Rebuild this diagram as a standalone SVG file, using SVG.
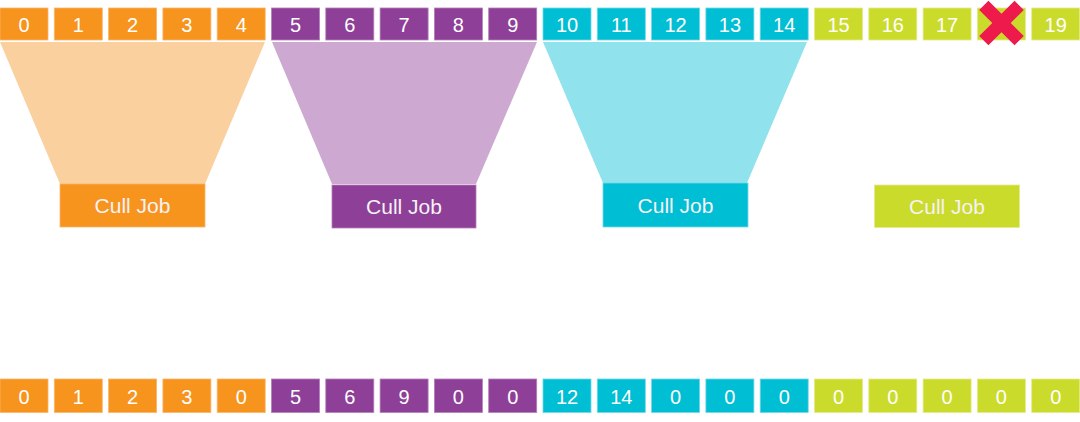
<svg xmlns="http://www.w3.org/2000/svg" width="1080" height="422" viewBox="0 0 1080 422">
<style>
.o{fill:#F7941E;stroke:#FBB56A;stroke-width:0.8}
.p{fill:#8E3F97;stroke:#B47FBA;stroke-width:0.8}
.c{fill:#00BED4;stroke:#6ED8E6;stroke-width:0.8}
.g{fill:#CBDB2B;stroke:#E3EC8A;stroke-width:0.8}
.n{font-family:"Liberation Sans",Arial,sans-serif;font-size:20px;fill:#FFFFFF;text-anchor:middle}
.j{font-family:"Liberation Sans",Arial,sans-serif;font-size:21px;fill:#F6F2F6;text-anchor:middle}
.fo{fill:#FBD09F}
.fp{fill:#CDA9D2}
.fc{fill:#90E2EC}
</style>
<defs>
<rect id="b" width="48" height="32"/>
<rect id="bb" width="48" height="33.5"/>
</defs>
<g id="connectors">
<polygon class="fo" points="0,42 265,42 205,184 60,184"/>
<polygon class="fp" points="272,42 537,42 476,184 332,184"/>
<polygon class="fc" points="543,42 807,42 747,183 603,183"/>
</g>
<g id="top-row">
<g id="t0"><use href="#b" class="o" x="0" y="8"/><text class="n" x="24" y="31.5">0</text></g>
<g id="t1"><use href="#b" class="o" x="54.3" y="8"/><text class="n" x="78.3" y="31.5">1</text></g>
<g id="t2"><use href="#b" class="o" x="108.6" y="8"/><text class="n" x="132.6" y="31.5">2</text></g>
<g id="t3"><use href="#b" class="o" x="162.9" y="8"/><text class="n" x="186.9" y="31.5">3</text></g>
<g id="t4"><use href="#b" class="o" x="217.2" y="8"/><text class="n" x="241.2" y="31.5">4</text></g>
<g id="t5"><use href="#b" class="p" x="271.5" y="8"/><text class="n" x="295.5" y="31.5">5</text></g>
<g id="t6"><use href="#b" class="p" x="325.8" y="8"/><text class="n" x="349.8" y="31.5">6</text></g>
<g id="t7"><use href="#b" class="p" x="380.1" y="8"/><text class="n" x="404.1" y="31.5">7</text></g>
<g id="t8"><use href="#b" class="p" x="434.4" y="8"/><text class="n" x="458.4" y="31.5">8</text></g>
<g id="t9"><use href="#b" class="p" x="488.7" y="8"/><text class="n" x="512.7" y="31.5">9</text></g>
<g id="t10"><use href="#b" class="c" x="543" y="8"/><text class="n" x="567" y="31.5">10</text></g>
<g id="t11"><use href="#b" class="c" x="597.3" y="8"/><text class="n" x="621.3" y="31.5">11</text></g>
<g id="t12"><use href="#b" class="c" x="651.6" y="8"/><text class="n" x="675.6" y="31.5">12</text></g>
<g id="t13"><use href="#b" class="c" x="705.9" y="8"/><text class="n" x="729.9" y="31.5">13</text></g>
<g id="t14"><use href="#b" class="c" x="760.2" y="8"/><text class="n" x="784.2" y="31.5">14</text></g>
<g id="t15"><use href="#b" class="g" x="814.5" y="8"/><text class="n" x="838.5" y="31.5">15</text></g>
<g id="t16"><use href="#b" class="g" x="868.8" y="8"/><text class="n" x="892.8" y="31.5">16</text></g>
<g id="t17"><use href="#b" class="g" x="923.1" y="8"/><text class="n" x="947.1" y="31.5">17</text></g>
<g id="t18"><use href="#b" class="g" x="977.4" y="8"/>
<polygon fill="#ED1A4B" transform="translate(1001.5,23) rotate(45)" points="-6.5,-25 6.5,-25 6.5,-6.5 25,-6.5 25,6.5 6.5,6.5 6.5,25 -6.5,25 -6.5,6.5 -25,6.5 -25,-6.5 -6.5,-6.5"/></g>
<g id="t19"><use href="#b" class="g" x="1031.7" y="8"/><text class="n" x="1055.7" y="31.5">19</text></g>
</g>
<g id="cull-jobs">
<g id="cj0"><rect class="o" x="60" y="184" width="145" height="43"/><text class="j" x="132.5" y="213">Cull Job</text></g>
<g id="cj1"><rect class="p" x="332" y="185" width="144" height="43"/><text class="j" x="404" y="214">Cull Job</text></g>
<g id="cj2"><rect class="c" x="603" y="183" width="145" height="44"/><text class="j" x="675.5" y="212.5">Cull Job</text></g>
<g id="cj3"><rect class="g" x="874.5" y="185" width="145" height="42.5"/><text class="j" x="947" y="214">Cull Job</text></g>
</g>
<g id="bottom-row">
<g id="r0"><use href="#bb" class="o" x="0" y="379"/><text class="n" x="24" y="403.5">0</text></g>
<g id="r1"><use href="#bb" class="o" x="54.3" y="379"/><text class="n" x="78.3" y="403.5">1</text></g>
<g id="r2"><use href="#bb" class="o" x="108.6" y="379"/><text class="n" x="132.6" y="403.5">2</text></g>
<g id="r3"><use href="#bb" class="o" x="162.9" y="379"/><text class="n" x="186.9" y="403.5">3</text></g>
<g id="r4"><use href="#bb" class="o" x="217.2" y="379"/><text class="n" x="241.2" y="403.5">0</text></g>
<g id="r5"><use href="#bb" class="p" x="271.5" y="379"/><text class="n" x="295.5" y="403.5">5</text></g>
<g id="r6"><use href="#bb" class="p" x="325.8" y="379"/><text class="n" x="349.8" y="403.5">6</text></g>
<g id="r7"><use href="#bb" class="p" x="380.1" y="379"/><text class="n" x="404.1" y="403.5">9</text></g>
<g id="r8"><use href="#bb" class="p" x="434.4" y="379"/><text class="n" x="458.4" y="403.5">0</text></g>
<g id="r9"><use href="#bb" class="p" x="488.7" y="379"/><text class="n" x="512.7" y="403.5">0</text></g>
<g id="r10"><use href="#bb" class="c" x="543" y="379"/><text class="n" x="567" y="403.5">12</text></g>
<g id="r11"><use href="#bb" class="c" x="597.3" y="379"/><text class="n" x="621.3" y="403.5">14</text></g>
<g id="r12"><use href="#bb" class="c" x="651.6" y="379"/><text class="n" x="675.6" y="403.5">0</text></g>
<g id="r13"><use href="#bb" class="c" x="705.9" y="379"/><text class="n" x="729.9" y="403.5">0</text></g>
<g id="r14"><use href="#bb" class="c" x="760.2" y="379"/><text class="n" x="784.2" y="403.5">0</text></g>
<g id="r15"><use href="#bb" class="g" x="814.5" y="379"/><text class="n" x="838.5" y="403.5">0</text></g>
<g id="r16"><use href="#bb" class="g" x="868.8" y="379"/><text class="n" x="892.8" y="403.5">0</text></g>
<g id="r17"><use href="#bb" class="g" x="923.1" y="379"/><text class="n" x="947.1" y="403.5">0</text></g>
<g id="r18"><use href="#bb" class="g" x="977.4" y="379"/><text class="n" x="1001.4" y="403.5">0</text></g>
<g id="r19"><use href="#bb" class="g" x="1031.7" y="379"/><text class="n" x="1055.7" y="403.5">0</text></g>
</g>
</svg>
